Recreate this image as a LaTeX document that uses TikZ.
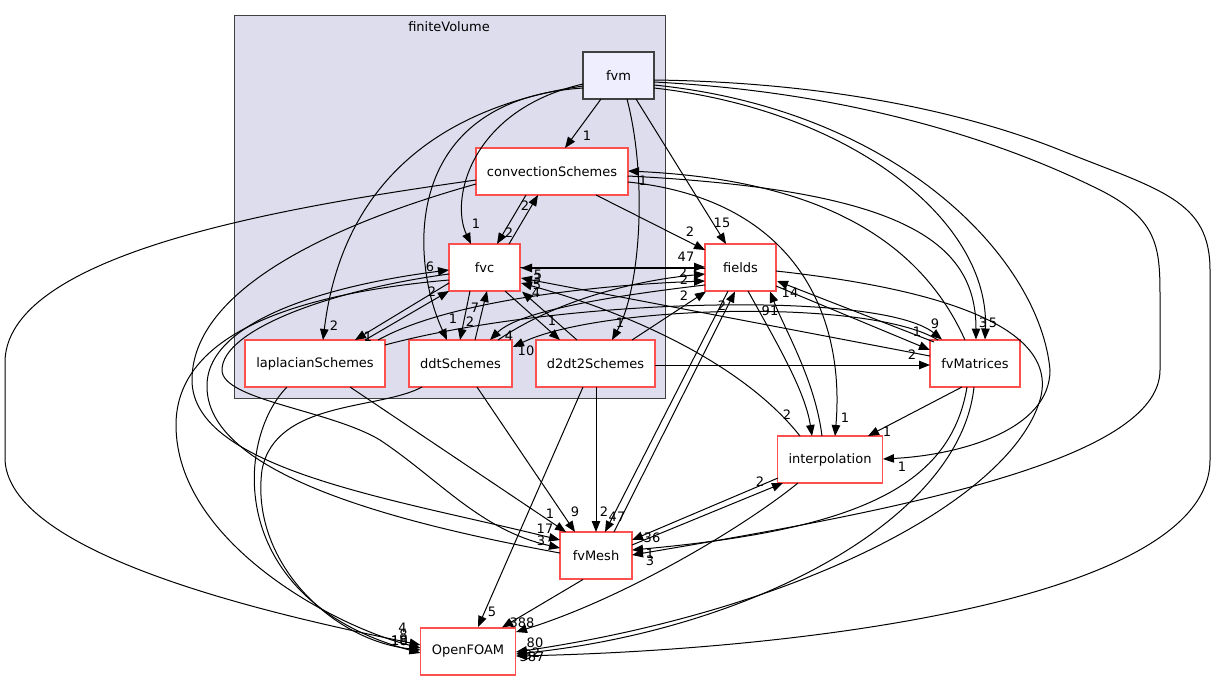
\documentclass[tikz,border=0pt]{standalone}
\usepackage{fontspec}
\setmainfont{DejaVu Sans}
\usetikzlibrary{arrows.meta}
\definecolor{clfill}{RGB}{221,221,238}
\definecolor{nred}{RGB}{255,80,80}
\definecolor{fvmfill}{RGB}{238,238,255}
\definecolor{dgray}{RGB}{64,64,64}
\begin{document}
\begin{tikzpicture}[x=1pt,y=-1pt,font=\fontsize{13}{15}\selectfont,
  dirbox/.style={draw=nred,line width=1.2pt,fill=white,minimum height=47pt,inner sep=0pt},
  e/.style={draw=black,line width=1pt,-{Triangle[length=11pt,width=8.5pt]}},
  lbl/.style={inner sep=0pt}]
\useasboundingbox (0,0) rectangle (1216,681);
\path[fill=clfill,draw=dgray,line width=1pt] (234,15) rectangle (665,398);
\node (cltitle) at (449,27) {finiteVolume};
% nodes
\node[dirbox,draw=dgray,fill=fvmfill,minimum width=71pt] (fvm) at (618.5,75.5) {fvm};
\node[dirbox,minimum width=152pt] (conv) at (552,171.5) {convectionSchemes};
\node[dirbox,minimum width=71pt] (fvc) at (484.5,267.5) {fvc};
\node[dirbox,minimum width=71pt] (fields) at (740.5,267.5) {fields};
\node[dirbox,minimum width=140pt] (lap) at (315,363.5) {laplacianSchemes};
\node[dirbox,minimum width=103pt] (ddt) at (460.5,363.5) {ddtSchemes};
\node[dirbox,minimum width=119pt] (d2) at (595.5,363.5) {d2dt2Schemes};
\node[dirbox,minimum width=90pt] (fvMat) at (975,363.5) {fvMatrices};
\node[dirbox,minimum width=105pt] (interp) at (830,459.5) {interpolation};
\node[dirbox,minimum width=72pt] (fvMesh) at (596,555.5) {fvMesh};
\node[dirbox,minimum width=95pt] (OF) at (468,651.5) {OpenFOAM};
% fvm
\draw[e] ([shift={(-17.5,23.5)}]fvm.center) -- ([shift={(13,-23.5)}]conv.center) node[lbl,shift={(22,-12)}] (l01) {1};
\draw[e] ([shift={(-35.5,8.5)}]fvm.center) .. controls (470,110) and (450,200) .. ([shift={(-13.5,-23.5)}]fvc.center) node[lbl,shift={(5,-20)}] (l02) {1};
\draw[e] ([shift={(-35.5,10.5)}]fvm.center) .. controls (420,110) and (340,200) .. ([shift={(8,-23.5)}]lap.center) node[lbl,shift={(11,-14)}] (l03) {2};
\draw[e] ([shift={(-35.5,12.5)}]fvm.center) .. controls (400,100) and (410,260) .. ([shift={(-13.5,-23.5)}]ddt.center) node[lbl,shift={(6,-21)}] (l04) {1};
\draw[e] ([shift={(8.5,23.5)}]fvm.center) .. controls (648,180) and (640,290) .. ([shift={(16.5,-23.5)}]d2.center) node[lbl,shift={(8,-17)}] (l05) {1};
\draw[e] ([shift={(17.5,23.5)}]fvm.center) -- ([shift={(-14.5,-23.5)}]fields.center) node[lbl,shift={(-4,-21)}] (l06) {15};
\draw[e] ([shift={(35.5,12.5)}]fvm.center) .. controls (850,110) and (990,220) .. ([shift={(10,-24)}]fvMat.center) node[lbl,shift={(8,-17)}] (l07) {5};
\draw[e] ([shift={(35.5,9.5)}]fvm.center) .. controls (900,110) and (1040,260) .. (1050,370) .. controls (1050,430) and (960,455) .. ([shift={(53,-0.5)}]interp.center) node[lbl,shift={(19,8)}] (l08) {1};
\draw[e] ([shift={(35.5,6.5)}]fvm.center) .. controls (850,92) and (1000,140) .. (1100,190) .. controls (1160,220) and (1160,250) .. (1160,300) -- (1160,370) .. controls (1160,460) and (900,510) .. ([shift={(36,-0.5)}]fvMesh.center) node[lbl,shift={(18,6)}] (l09) {3};
\draw[e] ([shift={(35.5,4.5)}]fvm.center) .. controls (820,82) and (960,110) .. (1060,150) .. controls (1160,190) and (1210,200) .. (1210,270) -- (1210,460) .. controls (1210,600) and (800,650) .. ([shift={(48,4.5)}]OF.center) node[lbl,shift={(16,1)}] (l10) {587};
% conv
\draw[e] ([shift={(-26,23.5)}]conv.center) -- ([shift={(12.5,-23.5)}]fvc.center) node[lbl,shift={(12,-11)}] (l11) {2};
\draw[e] ([shift={(44,23.5)}]conv.center) -- ([shift={(-35.5,-17.5)}]fields.center) node[lbl,shift={(-15,-18)}] (l12) {2};
\draw[e] ([shift={(76,10.5)}]conv.center) .. controls (800,200) and (845,320) .. ([shift={(5,-23.5)}]interp.center) node[lbl,shift={(10,-18)}] (l13) {1};
\draw[e] ([shift={(76,4.5)}]conv.center) .. controls (900,190) and (976,240) .. ([shift={(1,-24)}]fvMat.center) node[lbl,shift={(7,-17)}] (l14) {3};
\draw[e] ([shift={(-76,12.5)}]conv.center) .. controls (330,225) and (192,290) .. (192,380) .. controls (192,470) and (400,500) .. ([shift={(-36,-15.5)}]fvMesh.center) node[lbl,shift={(-15,-11)}] (l15) {17};
\draw[e] ([shift={(-76,8.5)}]conv.center) .. controls (300,205) and (10,250) .. (5,360) -- (5,460) .. controls (10,560) and (300,620) .. ([shift={(-47.5,-6.5)}]OF.center) node[lbl,shift={(-18,-17)}] (l16) {4};
% fvc
\draw[e] ([shift={(35.5,-0.5)}]fvc.center) -- ([shift={(-35.5,-0.5)}]fields.center) node[lbl,shift={(-19,-10)}] (l17) {47};
\draw[e] ([shift={(24.5,-23.5)}]fvc.center) -- ([shift={(-14,23.5)}]conv.center) node[lbl,shift={(-13,11)}] (l18) {2};
\draw[e] ([shift={(-35.5,15.5)}]fvc.center) -- ([shift={(40,-23.5)}]lap.center) node[lbl,shift={(13,-3)}] (l19) {1};
\draw[e] ([shift={(-14.5,23.5)}]fvc.center) -- ([shift={(-0.5,-23.5)}]ddt.center) node[lbl,shift={(10,-18)}] (l20) {2};
\draw[e] ([shift={(20.5,23.5)}]fvc.center) -- ([shift={(-35.5,-23.5)}]d2.center) node[lbl,shift={(-8,-19)}] (l21) {1};
\draw[e] ([shift={(-35.5,6.5)}]fvc.center) .. controls (330,290) and (222,330) .. (222,370) .. controls (222,400) and (330,410) .. (380,440) .. controls (440,480) and (480,530) .. ([shift={(-36,-7.5)}]fvMesh.center) node[lbl,shift={(-19,-7)}] (l22) {3};
\draw[e] ([shift={(-35.5,12.5)}]fvc.center) .. controls (280,295) and (176,340) .. (176,425) .. controls (176,540) and (330,625) .. ([shift={(-47.5,-3.5)}]OF.center) node[lbl,shift={(-21,-7)}] (l23) {10};
% lap
\draw[e] ([shift={(50,-23.5)}]lap.center) -- ([shift={(-35.5,23.5)}]fvc.center) node[lbl,shift={(-17,1)}] (l24) {2};
\draw[e] ([shift={(63,-23.5)}]lap.center) .. controls (450,300) and (600,285) .. ([shift={(-35.5,13.5)}]fields.center) node[lbl,shift={(-21,-1)}] (l25) {2};
\draw[e] ([shift={(70,-18.5)}]lap.center) .. controls (560,298) and (880,290) .. ([shift={(-33,-24)}]fvMat.center) node[lbl,shift={(-7,-16)}] (l26) {9};
\draw[e] ([shift={(-28,23.5)}]lap.center) .. controls (235,440) and (225,600) .. ([shift={(-47.5,1.5)}]OF.center) node[lbl,shift={(-21,-12)}] (l27) {18};
\draw[e] ([shift={(35,23.5)}]lap.center) -- ([shift={(-30,-23.5)}]fvMesh.center) node[lbl,shift={(-16,-18)}] (l28) {1};
% ddt
\draw[e] ([shift={(14.5,-23.5)}]ddt.center) -- ([shift={(2.5,23.5)}]fvc.center) node[lbl,shift={(-12,17)}] (l29) {7};
\draw[e] ([shift={(37.5,-23.5)}]ddt.center) .. controls (560,298) and (640,280) .. ([shift={(-35.5,6.5)}]fields.center) node[lbl,shift={(-22,-1)}] (l30) {2};
\draw[e] ([shift={(16.5,23.5)}]ddt.center) -- ([shift={(-21,-23.5)}]fvMesh.center) node[lbl,shift={(0,-20)}] (l31) {9};
\draw[e] ([shift={(-38.5,23.5)}]ddt.center) .. controls (380,410) and (275,400) .. (262,470) .. controls (250,560) and (330,640) .. ([shift={(-47.5,-1.5)}]OF.center) node[lbl,shift={(-17,-15)}] (l32) {8};
% d2dt2
\draw[e] ([shift={(-18.5,-23.5)}]d2.center) -- ([shift={(37.5,24)}]fvc.center) node[lbl,shift={(14,1)}] (l33) {4};
\draw[e] ([shift={(36.5,-23.5)}]d2.center) -- ([shift={(-34.5,24)}]fields.center) node[lbl,shift={(-22,4)}] (l34) {2};
\draw[e] ([shift={(59.5,1.5)}]d2.center) -- ([shift={(-45,1.5)}]fvMat.center) node[lbl,shift={(-18,-10)}] (l35) {2};
\draw[e] ([shift={(0.5,23.5)}]d2.center) -- ([shift={(0,-23.5)}]fvMesh.center) node[lbl,shift={(8,-20)}] (l36) {2};
\draw[e] ([shift={(-12.5,23.5)}]d2.center) -- ([shift={(10,-24.5)}]OF.center) node[lbl,shift={(14,-15)}] (l37) {5};
% fields
\draw[e] ([shift={(-35.5,0.5)}]fields.center) -- ([shift={(36.5,0.5)}]fvc.center) node[lbl,shift={(17,7)}] (l38) {5};
\draw[e] ([shift={(-35.5,17.5)}]fields.center) .. controls (620,295) and (520,310) .. ([shift={(29.5,-23.5)}]ddt.center) node[lbl,shift={(19,-4)}] (l39) {4};
\draw[e] ([shift={(35.5,18.5)}]fields.center) -- ([shift={(-45,-13.5)}]fvMat.center) node[lbl,shift={(-13,-18)}] (l40) {1};
\draw[e] ([shift={(-12.5,23.5)}]fields.center) -- ([shift={(9,-23.5)}]fvMesh.center) node[lbl,shift={(12,-15)}] (l41) {47};
\draw[e] ([shift={(7.5,23.5)}]fields.center) .. controls (775,340) and (805,390) .. ([shift={(-18,-23.5)}]interp.center) node[lbl,shift={(-25,-21)}] (l42) {2};
\draw[e] ([shift={(35.5,3.5)}]fields.center) .. controls (950,290) and (1060,330) .. (1040,400) .. controls (1010,500) and (800,610) .. ([shift={(48,0.5)}]OF.center) node[lbl,shift={(20,1)}] (l43) {2};
% fvMatrices
\draw[e] ([shift={(-10,-23.5)}]fvMat.center) .. controls (920,240) and (820,180) .. ([shift={(76,-0.5)}]conv.center) node[lbl,shift={(15,10)}] (l44) {1};
\draw[e] ([shift={(-45,-7.5)}]fvMat.center) -- ([shift={(36.5,10.5)}]fvc.center) node[lbl,shift={(16,1)}] (l45) {3};
\draw[e] ([shift={(-41,-21.5)}]fvMat.center) -- ([shift={(36.5,13.5)}]fields.center) node[lbl,shift={(13,12)}] (l46) {14};
\draw[e] ([shift={(-37,-23.5)}]fvMat.center) .. controls (870,298) and (600,305) .. ([shift={(52.5,-16.5)}]ddt.center) node[lbl,shift={(13,4)}] (l47) {10};
\draw[e] ([shift={(-13,23.5)}]fvMat.center) -- ([shift={(38,-23.5)}]interp.center) node[lbl,shift={(19,-4)}] (l48) {1};
\draw[e] ([shift={(-8,23.5)}]fvMat.center) .. controls (950,490) and (850,530) .. ([shift={(36,-5.5)}]fvMesh.center) node[lbl,shift={(18,4)}] (l49) {1};
\draw[e] ([shift={(-1,23.5)}]fvMat.center) .. controls (960,520) and (750,630) .. ([shift={(48,2.5)}]OF.center) node[lbl,shift={(12,1)}] (l50) {3};
% interpolation
\draw[e] ([shift={(-30,-23.5)}]interp.center) .. controls (740,360) and (620,310) .. ([shift={(36.5,15.5)}]fvc.center) node[lbl,shift={(16,2)}] (l51) {5};
\draw[e] ([shift={(-8,-23.5)}]interp.center) .. controls (815,380) and (785,330) .. ([shift={(29.5,24)}]fields.center) node[lbl,shift={(0,19)}] (l52) {91};
\draw[e] ([shift={(-52,18.5)}]interp.center) -- ([shift={(36,-15.5)}]fvMesh.center) node[lbl,shift={(20,-2)}] (l53) {36};
\draw[e] ([shift={(-32,23.5)}]interp.center) .. controls (740,530) and (620,600) .. ([shift={(48,-19.5)}]OF.center) node[lbl,shift={(19,11)}] (l54) {80};
% fvMesh
\draw[e] ([shift={(-36,-2.5)}]fvMesh.center) .. controls (380,520) and (205,470) .. (207,385) .. controls (208,320) and (330,285) .. ([shift={(-35.5,2.5)}]fvc.center) node[lbl,shift={(-19,-3)}] (l55) {6};
\draw[e] ([shift={(18,-23.5)}]fvMesh.center) -- ([shift={(-5.5,24)}]fields.center) node[lbl,shift={(-13,14)}] (l56) {2};
\draw[e] ([shift={(36,-10.5)}]fvMesh.center) -- ([shift={(-47,23.5)}]interp.center) node[lbl,shift={(-23,-1)}] (l57) {2};
\draw[e] ([shift={(-13,24)}]fvMesh.center) -- ([shift={(34,-24)}]OF.center) node[lbl,shift={(20,-5)}] (l58) {388};
\end{tikzpicture}
\end{document}
